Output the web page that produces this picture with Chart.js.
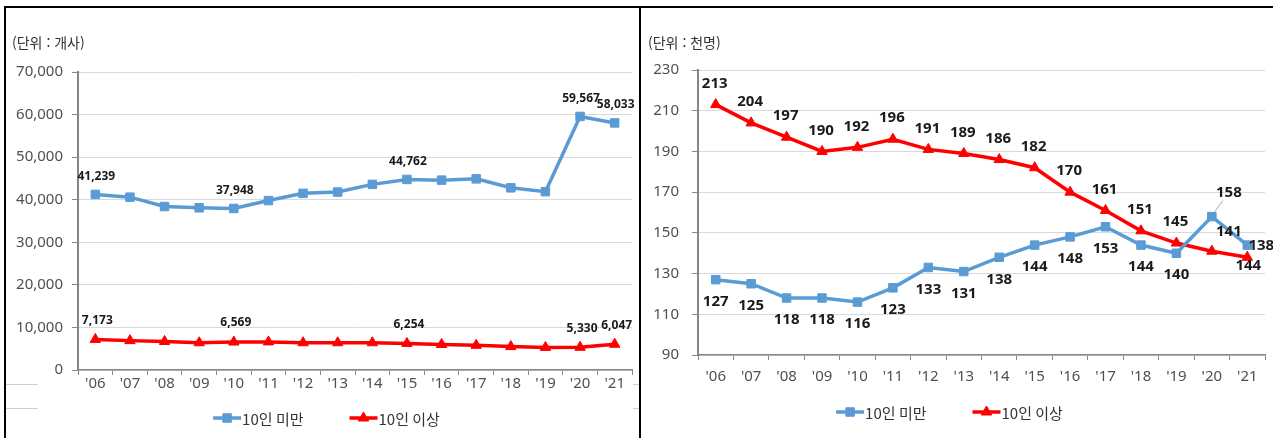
<!DOCTYPE html>
<html lang="ko">
<head>
<meta charset="UTF-8">
<title>10인 미만 / 10인 이상 추이</title>
<script src="https://cdn.jsdelivr.net/npm/chart.js"></script>
<style>
    body { margin: 0; background: #fff; }
    #wrap { position: relative; width: 1273px; height: 438px; overflow: hidden;
            font-family: "Noto Sans CJK KR", "Noto Sans", sans-serif; }
    canvas { position: absolute; top: 0; }
    #leftChart { left: 0; }
    #rightChart { left: 640px; }
    .frame { position: absolute; background: #000; }
    .stub { position: absolute; height: 1px; background: #cfcfcf; }
    .unit { position: absolute; top: 32px; font-size: 14px; color: #333; }
</style>
</head>
<body>
<div id="wrap">
    <canvas id="leftChart" width="640" height="438"></canvas>
    <canvas id="rightChart" width="633" height="438"></canvas>

    <div class="frame" style="left:4px; top:6px; width:1269px; height:2px;"></div>
    <div class="frame" style="left:4px; top:6px; width:2px; height:432px;"></div>
    <div class="frame" style="left:639px; top:6px; width:2px; height:432px;"></div>
    <div class="stub" style="left:6px; top:384px; width:32px;"></div>
    <div class="stub" style="left:6px; top:408px; width:32px;"></div>
    <div class="stub" style="left:633px; top:384px; width:6px;"></div>
    <div class="stub" style="left:633px; top:408px; width:6px;"></div>

    <div class="unit" style="left:12px;">(단위 : 개사)</div>
    <div class="unit" style="left:648px;">(단위 : 천명)</div>
</div>

<script>
    // Year labels shared by both charts
    const years = ["'06", "'07", "'08", "'09", "'10", "'11", "'12", "'13", "'14", "'15", "'16", "'17", "'18", "'19", "'20", "'21"];
    const seriesNames = ['10인 미만', '10인 이상'];

    // Left chart: number of companies (개사)
    const companiesSmall = [41239, 40600, 38400, 38100, 37948, 39800, 41500, 41800, 43600, 44762, 44600, 44900, 42800, 41900, 59567, 58033];
    const companiesLarge = [7173, 6900, 6700, 6400, 6569, 6600, 6400, 6400, 6400, 6254, 6000, 5800, 5500, 5300, 5330, 6047];
    const companiesLabeled = [0, 4, 9, 14, 15];

    // Right chart: workers (천명)
    const workersSmall = [127, 125, 118, 118, 116, 123, 133, 131, 138, 144, 148, 153, 144, 140, 158, 144];
    const workersLarge = [213, 204, 197, 190, 192, 196, 191, 189, 186, 182, 170, 161, 151, 145, 141, 138];

    const BLUE = '#5B9BD5';
    const RED = '#FF0000';
    const AXIS = '#868686';
    const GRID = '#d9d9d9';

    // label offsets in px relative to the point: [dx, dy, leaderLine]
    function sameOffsets(dx, dy) { return years.map(() => [dx, dy]); }
    const leftSmallOffsets = sameOffsets(1, -18);
    const leftLargeOffsets = sameOffsets(2, -19);
    const rightSmallOffsets = sameOffsets(0, 22);
    rightSmallOffsets[14] = [17, -24, true];
    rightSmallOffsets[15] = [1, 21];
    const rightLargeOffsets = sameOffsets(-1, -21);
    rightLargeOffsets[14] = [17, -19];
    rightLargeOffsets[15] = [14, -12];

    // draws value labels next to points
    const pointLabels = {
        id: 'pointLabels',
        afterDatasetsDraw(chart, args, opts) {
            const ctx = chart.ctx;
            ctx.save();
            ctx.font = opts.font;
            ctx.textAlign = 'center';
            ctx.textBaseline = 'middle';
            chart.data.datasets.forEach((ds, i) => {
                const meta = chart.getDatasetMeta(i);
                meta.data.forEach((pt, j) => {
                    if (ds.labelIndexes && !ds.labelIndexes.includes(j)) return;
                    const off = ds.labelOffsets[j];
                    const x = pt.x + off[0];
                    const y = pt.y + off[1];
                    if (off[2]) {
                        ctx.strokeStyle = '#a6a6a6';
                        ctx.lineWidth = 1;
                        ctx.beginPath();
                        ctx.moveTo(x - 6, y + 8);
                        ctx.lineTo(pt.x + 3, pt.y - 5);
                        ctx.stroke();
                    }
                    ctx.fillStyle = '#1a1a1a';
                    ctx.fillText(ds.data[j].toLocaleString('en-US'), x, y);
                });
            });
            ctx.restore();
        }
    };

    // Excel-like legend: line with marker, then the name
    const lineLegend = {
        id: 'lineLegend',
        afterDraw(chart, args, opts) {
            const ctx = chart.ctx;
            ctx.save();
            ctx.font = opts.font;
            const items = chart.data.datasets.map(ds => ({ ds, w: 30 + ctx.measureText(ds.label).width }));
            const total = items.reduce((s, it) => s + it.w, 0) + opts.gap * (items.length - 1);
            let x = opts.centerX - total / 2;
            const y = opts.y;
            items.forEach(it => {
                const ds = it.ds;
                ctx.strokeStyle = ds.borderColor;
                ctx.fillStyle = ds.borderColor;
                ctx.lineWidth = 3.5;
                ctx.beginPath();
                ctx.moveTo(x, y);
                ctx.lineTo(x + 28, y);
                ctx.stroke();
                ctx.lineWidth = 1;
                Chart.helpers.drawPoint(ctx, { pointStyle: ds.pointStyle, radius: ds.pointRadius, borderWidth: 1, rotation: 0 }, x + 14, y);
                ctx.fillStyle = '#333';
                ctx.textAlign = 'left';
                ctx.textBaseline = 'middle';
                ctx.fillText(ds.label, x + 29, y + 1);
                x += it.w + opts.gap;
            });
            ctx.restore();
        }
    };

    function makeDataset(label, data, color, style, radius, offsets, labelIndexes) {
        return {
            label: label,
            data: data,
            borderColor: color,
            backgroundColor: color,
            borderWidth: 3.5,
            pointStyle: style,
            pointRadius: radius,
            pointBorderWidth: 1,
            tension: 0,
            labelOffsets: offsets,
            labelIndexes: labelIndexes
        };
    }

    function makeChart(canvasId, cfg) {
        return new Chart(document.getElementById(canvasId), {
            type: 'line',
            data: {
                labels: years,
                datasets: cfg.datasets
            },
            plugins: [pointLabels, lineLegend],
            options: {
                responsive: false,
                animation: false,
                layout: { padding: { left: 0, right: cfg.padRight, top: cfg.padTop, bottom: 0 } },
                plugins: {
                    legend: { display: false },
                    tooltip: { enabled: false },
                    pointLabels: { font: cfg.labelFont },
                    lineLegend: { font: '15px "Noto Sans CJK KR", sans-serif', gap: 45, centerX: cfg.legendX, y: cfg.legendY }
                },
                scales: {
                    x: {
                        offset: true,
                        afterFit: s => { s.height = cfg.xHeight; },
                        grid: { offset: true, drawOnChartArea: false, color: AXIS, tickColor: AXIS, tickLength: 5 },
                        border: { color: AXIS, width: 1.5 },
                        ticks: { color: '#505050', font: { family: 'Noto Sans', size: 15 }, padding: cfg.xPad, maxRotation: 0, autoSkip: false }
                    },
                    y: {
                        min: cfg.min,
                        max: cfg.max,
                        afterFit: s => { s.width = cfg.yWidth; },
                        grid: { color: GRID, tickColor: AXIS, tickLength: 6 },
                        border: { color: AXIS, width: 2 },
                        ticks: {
                            stepSize: cfg.step,
                            color: '#505050',
                            font: { family: 'Noto Sans', size: 15 },
                            padding: cfg.yPad,
                            callback: v => v.toLocaleString('en-US')
                        }
                    }
                }
            }
        });
    }

    makeChart('leftChart', {
        datasets: [
            makeDataset(seriesNames[0], companiesSmall, BLUE, 'rect', 6, leftSmallOffsets, companiesLabeled),
            makeDataset(seriesNames[1], companiesLarge, RED, 'triangle', 6, leftLargeOffsets, companiesLabeled)
        ],
        min: 0, max: 70000, step: 10000,
        padTop: 72, padRight: 8, yWidth: 78, xHeight: 68,
        xPad: 0, yPad: 9,
        labelFont: 'bold 12px "Noto Sans", sans-serif',
        legendX: 327, legendY: 418
    });

    makeChart('rightChart', {
        datasets: [
            makeDataset(seriesNames[0], workersSmall, BLUE, 'rect', 6, rightSmallOffsets),
            makeDataset(seriesNames[1], workersLarge, RED, 'triangle', 6, rightLargeOffsets)
        ],
        min: 90, max: 230, step: 20,
        padTop: 70, padRight: 8, yWidth: 58, xHeight: 83,
        xPad: 8, yPad: 13,
        labelFont: 'bold 15px "Noto Sans", sans-serif',
        legendX: 310, legendY: 412
    });
</script>
</body>
</html>
